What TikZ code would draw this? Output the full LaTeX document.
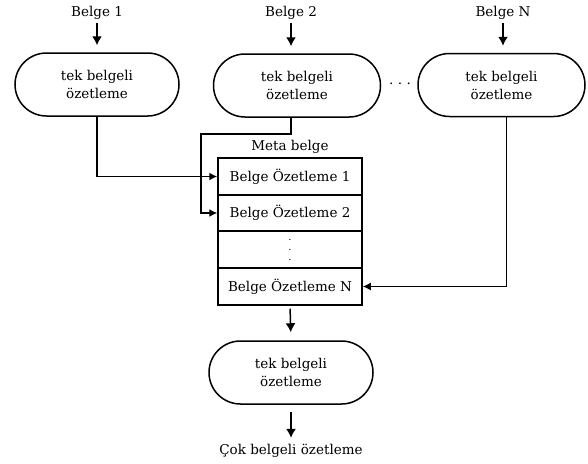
\documentclass[tikz,border=0pt]{standalone}
\usepackage{fontspec}
\setmainfont{DejaVu Serif}
\usetikzlibrary{arrows.meta,shapes.misc}
\begin{document}
\begin{tikzpicture}[x=1pt,y=-1pt,
  font=\fontsize{13.5}{18}\selectfont,
  ozet/.style={draw,line width=1.5pt,rounded rectangle,minimum width=164pt,minimum height=63pt,align=center,inner sep=0pt},
  satir/.style={draw,line width=1.5pt,minimum width=144pt,minimum height=37pt,inner sep=0pt},
  ok/.style={line width=1.5pt,-{Latex[length=9pt,width=10pt]}},
  bag/.style={line width=1.4pt,-{Latex[length=8pt,width=8pt]}}]
\useasboundingbox (0,0) rectangle (588,463);

\node (l1) at (97,13) {Belge 1};
\node (l2) at (291,13) {Belge 2};
\node (lN) at (503,13) {Belge N};
\node[ozet] (b1) at (97,84.5) {tek belgeli\\özetleme};
\node[ozet,minimum width=167pt] (b2) at (297,85.5) {tek belgeli\\özetleme};
\node[ozet,minimum width=167pt] (bN) at (501.5,85) {tek belgeli\\özetleme};
\node (nokta) at (400,84) {.\,\,.\,\,.};

\node (meta) at (290,147) {Meta belge};
\node[satir] (r1) at (290,176.5) {Belge Özetleme 1};
\node[satir] (r2) at (290,213) {Belge Özetleme 2};
\node[satir,align=center,font=\fontsize{10}{10}\selectfont] (rd) at (290,249.5) {.\\.\\.};
\node[satir] (rN) at (290,286.5) {Belge Özetleme N};
\coordinate (k2) at (201,134);

\node[ozet] (b0) at (291,372.5) {tek belgeli\\özetleme};
\node (son) at (291,451) {Çok belgeli özetleme};

\path[draw,ok,shorten >=7pt] (l1.south) -- (b1.north);
\path[draw,ok,shorten >=7pt] (l2.south) -- (l2.south |- b2.north);
\path[draw,ok,shorten >=7pt] (lN.south) -- (lN.south |- bN.north);

\path[draw,bag] (b1.south) |- (r1.west);
\path[draw,bag] (b2.south -| l2) |- (k2) |- (r2.west);
\path[draw,bag] ([xshift=5pt]bN.south) |- (rN.east);

\path[draw,ok,shorten <=3pt,shorten >=8pt] (rN.south) -- (b0.north);
\path[draw,ok,shorten <=7pt,shorten >=3pt] (b0.south) -- (son.north);
\end{tikzpicture}
\end{document}
